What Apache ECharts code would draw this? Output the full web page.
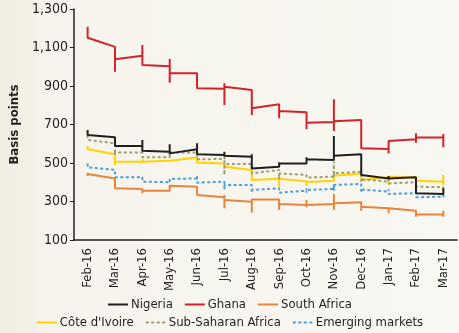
<!DOCTYPE html>
<html><head><meta charset="utf-8">
<script src="https://cdn.jsdelivr.net/npm/echarts@6/dist/echarts.min.js"></script>
<style>html,body{margin:0;padding:0;background:#f7f6ef}#c{width:459px;height:333px}</style>
</head><body><div id="c"></div>
<script>
const months = ['Feb-16','Mar-16','Apr-16','May-16','Jun-16','Jul-16','Aug-16','Sep-16','Oct-16','Nov-16','Dec-16','Jan-17','Feb-17','Mar-17'];
const yTicks = [100, 300, 500, 700, 900, 1100, 1300];

// per month: open (entry value), high, low, close (exit value)
const ghanaOpen  = [null,1103,1057,1002,966,886,879,805,763,713,723,573,623,633];
const ghanaHigh  = [1208,1104,1113,1040,966,914,879,810,767,831,730,614,654,651];
const ghanaLow   = [1151,974,1009,917,888,801,749,732,675,666,576,550,605,582];
const ghanaClose = [1151,1039,1009,966,888,896,784,770,709,717,579,614,633,633];

const nigeriaOpen  = [null,634,588,559,571,542,533,481,498,516,545,420,426,339];
const nigeriaHigh  = [671,634,620,597,602,556,545,504,530,640,545,432,426,369];
const nigeriaLow   = [645,588,564,550,545,538,472,481,498,516,438,420,343,339];
const nigeriaClose = [649,588,568,559,545,538,478,498,519,538,438,429,343,339];

const civOpen  = [null,545,507,512,528,498,464,418,405,408,446,426,426,403];
const civHigh  = [588,545,519,521,528,498,464,418,405,438,446,429,429,438];
const civLow   = [571,490,507,507,502,481,412,377,380,408,412,386,408,386];
const civClose = [571,507,516,521,507,481,417,418,401,434,420,429,408,403];

const ssaOpen  = [null,602,554,530,554,521,495,464,438,429,455,403,400,374];
const ssaHigh  = [645,602,568,556,559,560,495,464,446,507,455,415,415,384];
const ssaLow   = [620,542,530,530,519,438,446,415,424,429,403,394,358,363];
const ssaClose = [623,554,533,554,528,495,455,446,429,446,415,403,377,374];

const emOpen  = [null,464,426,400,420,403,386,369,356,365,391,351,343,325];
const emHigh  = [498,464,432,417,432,403,386,369,369,394,391,363,360,346];
const emLow   = [478,426,403,400,398,363,346,346,346,356,351,339,322,317];
const emClose = [486,429,408,417,403,386,360,356,360,386,363,349,329,325];

const saOpen  = [null,420,365,356,377,322,299,311,282,287,296,265,252,233];
const saHigh  = [450,420,365,386,377,334,308,311,308,339,296,273,252,252];
const saLow   = [432,369,343,356,334,265,242,256,270,256,252,239,221,221];
const saClose = [443,372,356,382,334,308,311,287,282,291,273,265,233,233];

function path(o, h, l, c) {
  const pts = [];
  for (let i = 0; i < months.length; i++) {
    if (o[i] != null) pts.push([i, o[i]]);
    pts.push([i, h[i]]);
    pts.push([i, l[i]]);
    pts.push([i, c[i]]);
  }
  return pts;
}

const FONT = '"Liberation Sans Narrow","DejaVu Sans Condensed",sans-serif';

function mk(name, color, data, dashed, z) {
  return {
    name, type: 'line', data, symbol: 'none', showSymbol: false, z,
    lineStyle: { color, width: 2, type: dashed ? [3, 2.5] : 'solid' },
    itemStyle: { color },
    animation: false
  };
}

const legendCommon = {
  left: 'center', itemWidth: 20, itemHeight: 10, itemGap: 11,
  itemStyle: { opacity: 0, borderWidth: 0 },
  textStyle: { fontFamily: FONT, fontSize: 13, color: '#231f20', padding: [0, 0, 0, -2] }
};

const chart = echarts.init(document.getElementById('c'));
chart.setOption({
  backgroundColor: {
    type: 'linear', x: 0, y: 0, x2: 1, y2: 0,
    colorStops: [{offset: 0, color: '#f0ede1'}, {offset: 0.12, color: '#f6f4ec'}, {offset: 1, color: '#f8f7f1'}]
  },
  animation: false,
  grid: { left: 50, right: 2, top: 9, bottom: 93 },
  legend: [
    Object.assign({ data: ['Nigeria', 'Ghana', 'South Africa'], top: 293 }, legendCommon),
    Object.assign({ data: ["Côte d'Ivoire", 'Sub-Saharan Africa', 'Emerging markets'], top: 311 }, legendCommon)
  ],
  xAxis: {
    type: 'category', data: months, boundaryGap: true,
    axisLine: { lineStyle: { color: '#231f20', width: 1.5 } },
    axisTick: { show: false },
    axisLabel: { rotate: 90, interval: 0, fontFamily: FONT, fontSize: 13, color: '#231f20', margin: 8 }
  },
  yAxis: {
    type: 'value', min: 100, max: 1300, interval: 200,
    name: 'Basis points', nameLocation: 'middle', nameGap: 40,
    nameTextStyle: { fontFamily: FONT, fontSize: 13, fontWeight: 'bold', color: '#231f20' },
    axisLine: { show: true, lineStyle: { color: '#231f20', width: 1.5 } },
    axisTick: { show: true, length: 4, lineStyle: { color: '#231f20' } },
    splitLine: { show: false },
    axisLabel: {
      fontFamily: FONT, fontSize: 14, color: '#231f20', margin: 6,
      formatter: v => yTicks.includes(v) ? v.toLocaleString('en-US') : ''
    }
  },
  series: [
    mk('Nigeria', '#231f20', path(nigeriaOpen, nigeriaHigh, nigeriaLow, nigeriaClose), false, 6),
    mk('Ghana', '#d2232a', path(ghanaOpen, ghanaHigh, ghanaLow, ghanaClose), false, 5),
    mk('South Africa', '#e8843c', path(saOpen, saHigh, saLow, saClose), false, 4),
    mk("Côte d'Ivoire", '#ffd200', path(civOpen, civHigh, civLow, civClose), false, 3),
    mk('Sub-Saharan Africa', '#a19e6c', path(ssaOpen, ssaHigh, ssaLow, ssaClose), true, 4),
    mk('Emerging markets', '#4aa0dc', path(emOpen, emHigh, emLow, emClose), true, 2)
  ]
});
</script></body></html>
